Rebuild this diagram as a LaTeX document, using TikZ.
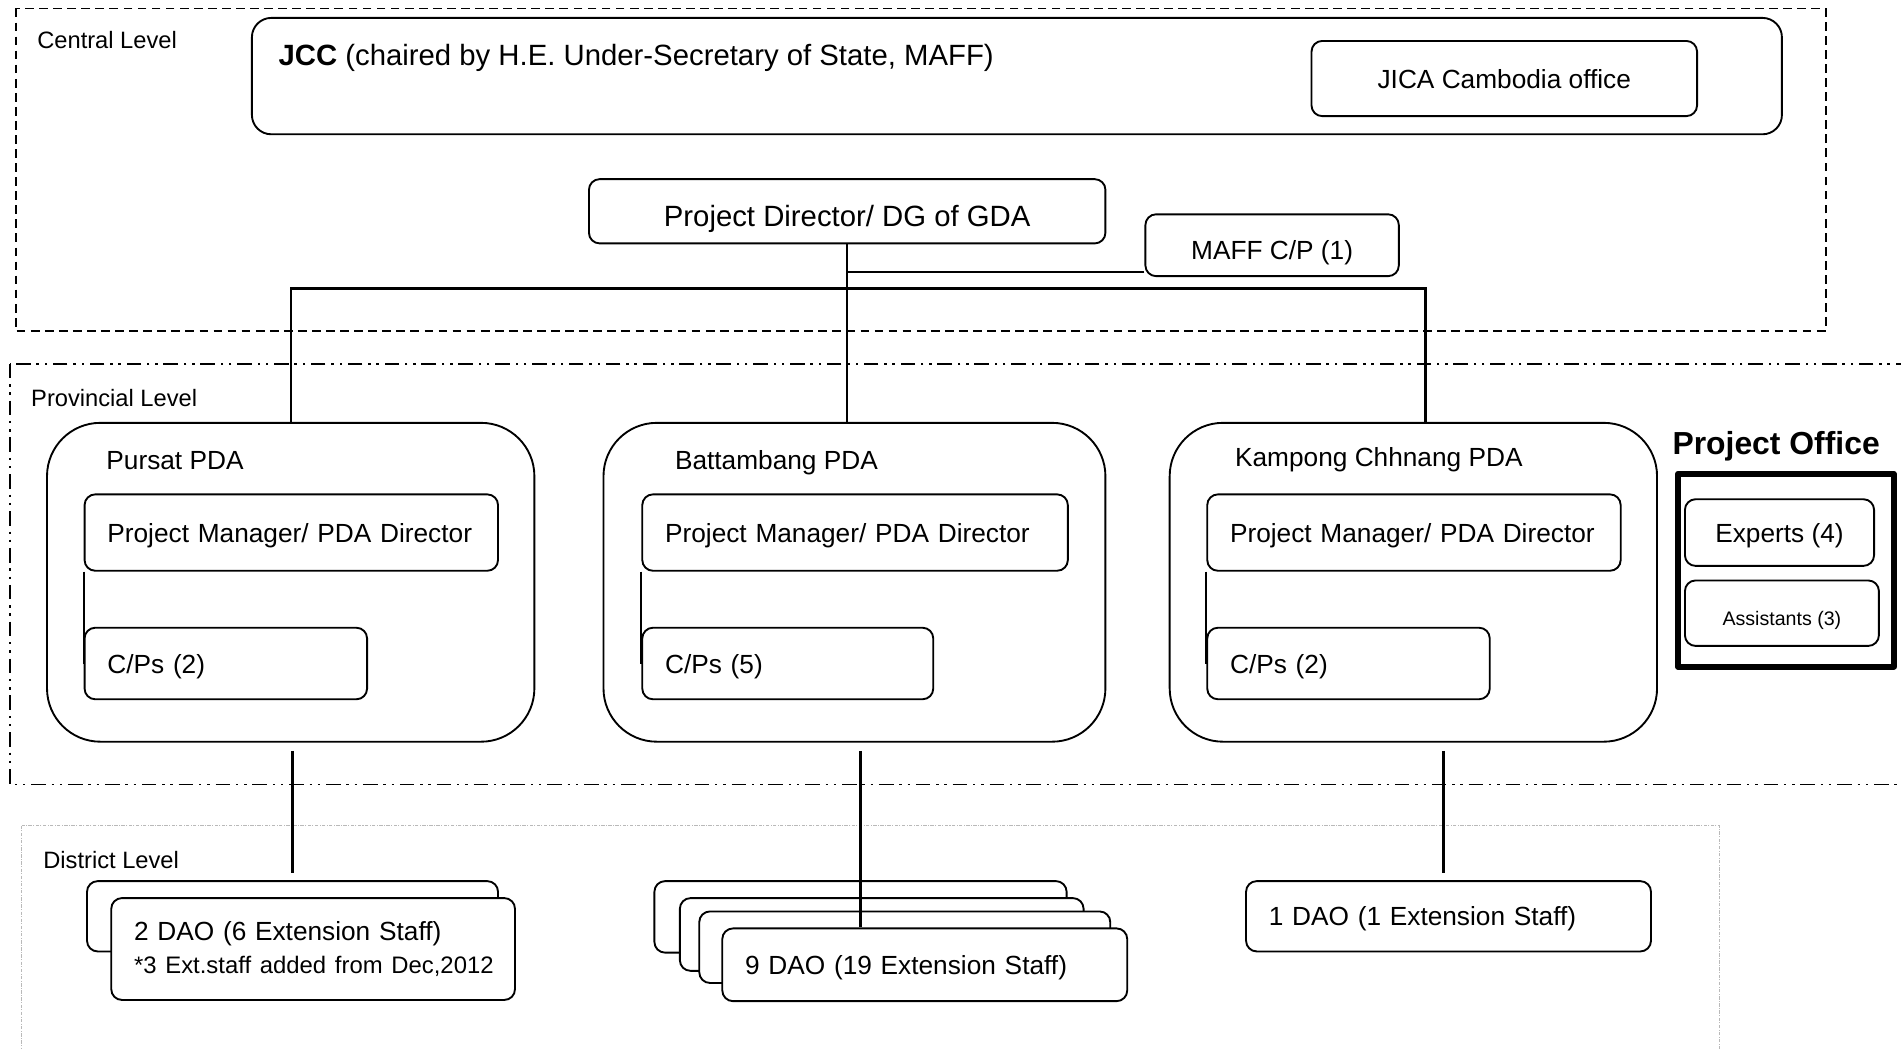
\documentclass[tikz,border=0pt]{standalone}
\usepackage{fontspec}
\setmainfont{Liberation Sans}
\usetikzlibrary{calc}

\begin{document}
\begin{tikzpicture}[line width=1.1pt,
  every node/.style={font=\fontsize{15.4}{19}\selectfont},
  box/.style={draw, fill=white, rounded corners=0.22cm, inner xsep=0.47cm, inner ysep=0pt, text depth=0pt, align=left, anchor=north west},
  cbox/.style={box, align=center, inner xsep=0pt},
  pda/.style={draw, rounded corners=1.1cm, minimum height=6.575cm, anchor=north west},
  tag/.style={anchor=west, inner sep=0pt},
  lvl/.style={tag, font=\fontsize{13.9}{17}\selectfont},
  bigtxt/.style={font=\fontsize{17.2}{21}\selectfont},
  link/.style={line width=1.4pt}]
\useasboundingbox (0,0) rectangle (39.2,-21.625);

% central level
\draw[line width=1pt, dash pattern=on 0.18cm off 0.11cm] (0.325,-0.175) rectangle (37.65,-6.825);
\node[lvl] (central) at (0.75,-0.825) {Central Level};
\node[box, rounded corners=0.4cm, minimum width=31.55cm, minimum height=2.4cm] (jcc) at (5.175,-0.35) {};
\node[tag, bigtxt] (jcctxt) at (5.725,-1.2) {\textbf{JCC} (chaired by H.E. Under-Secretary of State, MAFF)};
\node[cbox, minimum width=7.95cm, minimum height=1.55cm] (jica) at (27.025,-0.825) {JICA Cambodia office};
\node[cbox, bigtxt, text height=0.62cm, minimum width=10.65cm, minimum height=1.325cm] (pd) at (12.125,-3.675) {Project Director/ DG of GDA};
\node[cbox, text height=0.585cm, minimum width=5.225cm, minimum height=1.275cm] (maff) at (23.6,-4.4) {MAFF C/P (1)};

% provincial level
\draw[line width=1pt, dash pattern=on 0.3cm off 0.12cm on 0.05cm off 0.12cm on 0.05cm off 0.12cm] (0.2,-7.5) rectangle (40,-16.175);
\node[lvl] (prov) at (0.625,-8.2) {Provincial Level};

\node[pda, minimum width=10.05cm] (pc) at (0.95,-8.7) {};
\node[tag] (pcl) at (2.175,-9.5) {Pursat PDA};
\node[box, text width=7.585cm, minimum height=1.575cm] (pm1) at (1.725,-10.175) {Project Manager/ PDA Director};
\node[box, text width=4.885cm, minimum height=1.475cm] (cp1) at (1.725,-12.925) {C/Ps (2)};
\draw (pm1.south west) -- (cp1.west);

\node[pda, minimum width=10.35cm] (bc) at (12.425,-8.7) {};
\node[tag] (bcl) at (13.9,-9.55) {Battambang PDA};
\node[box, text width=7.835cm, minimum height=1.575cm] (pm2) at (13.225,-10.175) {Project Manager/ PDA Director};
\node[box, text width=5.06cm, minimum height=1.475cm] (cp2) at (13.225,-12.925) {C/Ps (5)};
\draw (pm2.south west) -- (cp2.west);

\node[pda, minimum width=10.05cm] (kc) at (24.1,-8.7) {};
\node[tag] (kcl) at (25.45,-9.475) {Kampong Chhnang PDA};
\node[box, text width=7.585cm, minimum height=1.575cm] (pm3) at (24.875,-10.175) {Project Manager/ PDA Director};
\node[box, text width=4.885cm, minimum height=1.475cm] (cp3) at (24.875,-12.925) {C/Ps (2)};
\draw (pm3.south west) -- (cp3.west);

\node[font=\bfseries\fontsize{18.7}{22}\selectfont] (pol) at (36.625,-9.2) {Project Office};
\node[draw, line width=3.5pt, line join=round, minimum width=4.45cm, minimum height=3.975cm, anchor=north west] (po) at (34.54,-9.71) {};
\node[cbox, minimum width=3.9cm, minimum height=1.375cm] (exp) at (34.725,-10.275) {Experts (4)};
\node[cbox, font=\fontsize{11.5}{14}\selectfont, text height=0.5cm, minimum width=4.0cm, minimum height=1.35cm] (asst) at (34.725,-11.95) {Assistants (3)};

% links from the director
\coordinate (bus) at (17.45,-5.95);
\draw[link] (pd.south) -- (pd.south |- bc.north);
\draw[link] (pc.north) |- (bus) -| ($(kc.north)+(0.25,0)$);
\draw[link] ([yshift=0.1cm]maff.south west) -- ([yshift=0.1cm]maff.south west -| pd.south);

% district level
\draw[gray!55, line width=0.6pt, dash pattern=on 2pt off 0.8pt on 0.6pt off 0.8pt] (0.45,-17.025) rectangle (35.45,-22.5);
\node[lvl] (dist) at (0.875,-17.725) {District Level};

\node[box, text width=7.535cm, minimum height=1.45cm] (d1b) at (1.775,-18.15) {};
\node[box, font=\fontsize{15.4}{19.2}\selectfont, text depth=, text width=7.385cm, minimum height=2.1cm] (d1f) at (2.275,-18.5)
  {2 DAO (6 Extension Staff)\\\mbox{\fontsize{14}{17}\selectfont *3 Ext.staff added from Dec,2012}};

\node[box, text width=7.56cm, minimum height=1.475cm] (d2a) at (13.475,-18.15) {};
\node[box, text width=7.385cm, minimum height=1.5cm] (d2b) at (14.0,-18.5) {};
\node[box, text width=7.535cm, minimum height=1.475cm] (d2c) at (14.4,-18.775) {};
\node[box, text width=7.41cm, minimum height=1.5cm] (d2d) at (14.875,-19.125) {9 DAO (19 Extension Staff)};

\node[box, text width=7.41cm, minimum height=1.45cm] (d3) at (25.675,-18.15) {1 DAO (1 Extension Staff)};

\draw[link, shorten <=0.17cm, shorten >=0.15cm] (d1b.north |- pc.south) -- (d1b.north);
\draw[link, shorten <=0.17cm] (d2a.north |- bc.south) -- (d2a.north |- d2d.north);
\draw[link, shorten <=0.17cm, shorten >=0.15cm] ($(d3.north |- kc.south)+(-0.1,0)$) -- ($(d3.north)+(-0.1,0)$);
\end{tikzpicture}
\end{document}
